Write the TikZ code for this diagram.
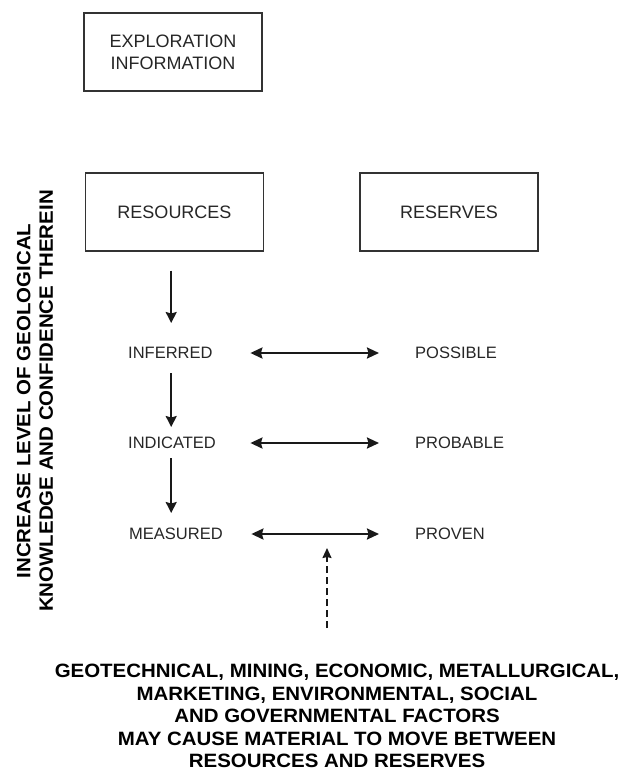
\documentclass[tikz,border=0pt]{standalone}
\usepackage{fontspec}
\setmainfont{Liberation Sans}
\newfontfamily\widesans[FakeStretch=1.06]{Liberation Sans}
\usetikzlibrary{arrows.meta,calc}

\tikzset{
  box/.style={draw=black!80, line width=1.1pt, minimum width=178pt, minimum height=78pt,
    inner sep=0pt, align=center, text=black!85, font=\fontsize{18}{22}\selectfont},
  lbl/.style={inner sep=0pt, text=black!85, font=\fontsize{16.5}{20}\selectfont},
  leftlbl/.style={lbl, anchor=west, text width=96pt, align=left},
  rightlbl/.style={lbl, anchor=west},
  varrow/.style={draw=black!90, line width=1.8pt,
    -{Stealth[length=11pt,width=11pt,inset=1.5pt]}},
  harrow/.style={draw=black!90, line width=2.2pt,
    {Stealth[length=12pt,width=11pt,inset=1.5pt]}-{Stealth[length=12pt,width=11pt,inset=1.5pt]},
    shorten <=26pt, shorten >=36pt},
  dasharrow/.style={draw=black!90, line width=1.6pt, dash pattern=on 7pt off 4pt,
    -{Stealth[length=10pt,width=9pt,inset=1pt]}},
  heavy/.style={inner sep=0pt, align=center, text=black,
    font=\widesans\bfseries\fontsize{19.3}{22.5}\selectfont}
}

\begin{document}
\begin{tikzpicture}[x=1pt,y=-1pt]
\useasboundingbox (0,0) rectangle (630,772);

% boxes
\node[box] (expl) at (173,52) {EXPLORATION\\INFORMATION};
\node[box] (res)  at (174.5,212) {RESOURCES};
\node[box] (rsv)  at (449,212) {RESERVES};

% resource categories
\node[leftlbl] (inf) at (128,353) {INFERRED};
\node[leftlbl] (ind) at (128,443) {INDICATED};
\node[leftlbl] (mea) at (129,534) {MEASURED};

% reserve categories
\node[rightlbl] (pos)  at (415,353) {POSSIBLE};
\node[rightlbl] (prob) at (415,443) {PROBABLE};
\node[rightlbl] (prov) at (415,534) {PROVEN};

% increasing confidence (one common column for the down arrows)
\draw[varrow] ($(res.south -| inf.center)+(-5pt,-19pt)$) -- ($(inf.center)+(-5pt,30pt)$);
\draw[varrow] ($(inf.center)+(-5pt,-20pt)$) -- ($(inf.center |- ind.center)+(-5pt,16pt)$);
\draw[varrow] ($(inf.center |- ind.center)+(-5pt,-15pt)$) -- ($(inf.center |- mea.center)+(-5pt,21pt)$);

% resource <-> reserve conversions
\draw[harrow] (inf.east) -- (pos.west);
\draw[harrow] (ind.east) -- (prob.west);
\draw[harrow] (mea.east) -- (prov.west);

% modifying factors
\coordinate (factorsrc) at (327,628);
\coordinate (factortip) at (327,548);
\draw[dasharrow] (factorsrc) -- (factortip);

\node[heavy, rotate=90] (axislbl) at (35,401)
  {INCREASE LEVEL OF GEOLOGICAL\\KNOWLEDGE AND CONFIDENCE THEREIN};

\node[heavy, anchor=north] (foot) at (337,664)
  {GEOTECHNICAL, MINING, ECONOMIC, METALLURGICAL,\\
   MARKETING, ENVIRONMENTAL, SOCIAL\\
   AND GOVERNMENTAL FACTORS\\
   MAY CAUSE MATERIAL TO MOVE BETWEEN\\
   RESOURCES AND RESERVES};
\end{tikzpicture}
\end{document}
